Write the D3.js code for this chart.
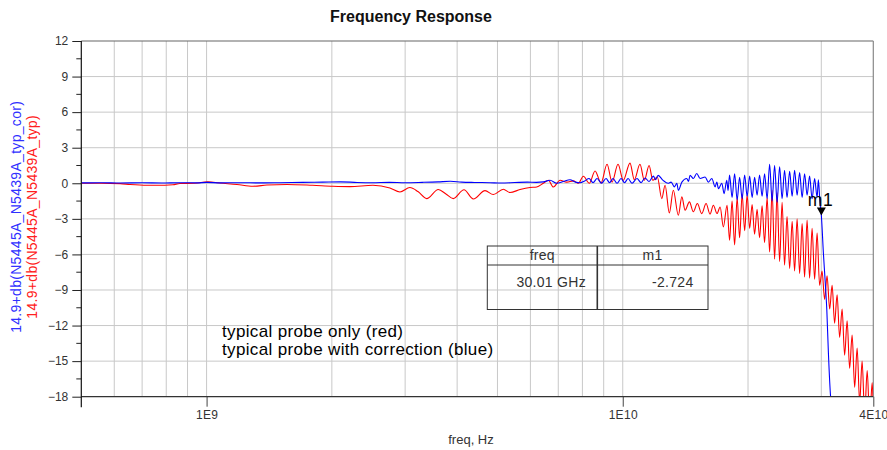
<!DOCTYPE html>
<html>
<head>
<meta charset="utf-8">
<script src="https://cdn.jsdelivr.net/npm/d3@7"></script>
<style>
  body { margin: 0; background: #fff; }
  svg { display: block; font-family: "Liberation Sans", Arial, sans-serif; }
</style>
</head>
<body>
<svg id="chart" width="887" height="450"></svg>
<script>
// ---- axis definitions (frequency in GHz, magnitude in dB) ----
const xDomain = [0.5, 40];
const xTickValues = [1, 10, 40];
const xTickLabels = ["1E9", "1E10", "4E10"];
const xGridValues = [0.6, 0.7, 0.8, 0.9, 1, 2, 3, 4, 5, 6, 7, 8, 9, 10, 20, 30];
const yDomain = [-18, 12];
const yTickValues = [-18, -15, -12, -9, -6, -3, 0, 3, 6, 9, 12];
const yMinorValues = [-16.5, -13.5, -10.5, -7.5, -4.5, -1.5, 1.5, 4.5, 7.5, 10.5];

// ---- typical probe only (red) ----
const redFreq = [
  0.5, 0.554, 0.62, 0.654, 0.719, 0.759, 0.83, 0.863, 0.937, 1.007, 1.076, 1.183,
  1.292, 1.396, 1.56, 1.798, 2.012, 2.211, 2.51, 2.758, 2.915, 3.08, 3.22, 3.38,
  3.604, 3.76, 3.915, 4.155, 4.375, 4.667, 4.887, 5.164, 5.358, 5.665, 5.985, 6.213,
  6.444, 6.626, 6.812, 7.07, 7.337, 7.61, 7.823, 8.042, 8.312, 8.579, 8.868, 9.168,
  9.426, 9.743, 10.03, 10.41, 10.66, 11.0, 11.27, 11.57, 11.81, 12.11, 12.41, 12.64,
  12.94, 13.23, 13.6, 13.87, 14.12, 14.46, 14.78, 15.11, 15.48, 15.86, 16.21, 16.51,
  16.85, 17.14, 17.45, 17.81, 18.06, 18.31, 18.57, 18.83, 19.09, 19.36, 19.63, 19.9,
  20.18, 20.46, 20.74, 21.03, 21.32, 21.62, 21.92, 22.23, 22.54, 22.85, 23.17, 23.49,
  23.82, 24.15, 24.48, 24.82, 25.18, 25.53, 25.88, 26.24, 26.61, 26.98, 27.35, 27.73,
  28.12, 28.51, 28.91, 29.31, 29.72, 30.13, 30.55, 30.97, 31.42, 31.85, 32.29, 32.74,
  33.2, 33.66, 34.13, 34.61, 35.09, 35.58, 36.08, 36.58, 37.09, 37.6, 38.13, 38.67,
  39.21, 39.75, 40.0
];
const redDb = [
  0.0, 0.0, -0.03, -0.1, -0.17, -0.17, -0.12, -0.02, 0.0, 0.12, 0.02, -0.1,
  -0.25, -0.15, -0.1, -0.17, -0.25, -0.28, -0.17, -0.4, -0.73, -0.36, -0.7, -1.29,
  -0.53, -0.9, -1.29, -0.55, -1.32, -0.62, -0.95, -0.5, -0.78, -0.53, -0.36, -0.31,
  0.0, 0.25, -0.31, 0.25, 0.1, 0.2, 0.0, 0.59, 0.0, 1.04, 0.03, 1.6,
  0.1, 1.6, 0.25, 1.7, 0.3, 1.6, 0.25, 1.5, 0.25, 0.53, -1.29, -0.17,
  -2.5, -0.59, -2.7, -1.15, -2.27, -1.57, -2.4, -1.71, -2.56, -1.71, -2.6, -1.85,
  -2.55, -2.0, -3.68, -1.85, -4.8, -1.5, -5.2, -1.2, -4.6, -0.9, -4.0, -1.0,
  -3.8, -1.8, -4.3, -2.2, -4.6, -1.9, -5.0, -1.2, -5.8, -0.6, -6.4, -0.8,
  -6.6, -1.6, -6.9, -2.8, -7.2, -3.2, -7.4, -3.0, -7.6, -3.4, -7.9, -3.1,
  -8.0, -3.8, -8.1, -4.2, -8.6, -7.4, -9.8, -7.8, -10.6, -8.6, -11.8, -9.4,
  -13.0, -10.6, -14.5, -11.6, -15.6, -12.8, -17.2, -13.9, -18.5, -15.0, -19.5, -15.8,
  -20.0, -16.8, -19.0
];

// ---- typical probe with correction (blue) ----
const blueFreq = [
  0.5, 0.56, 0.62, 0.7, 0.78, 0.86, 0.95, 1.0, 1.08, 1.2, 1.35, 1.5,
  1.7, 1.9, 2.1, 2.3, 2.5, 2.75, 3.0, 3.3, 3.6, 3.85, 4.1, 4.4,
  4.8, 5.1, 5.5, 5.9, 6.2, 6.45, 6.687, 6.937, 7.2, 7.469, 7.7, 7.895,
  8.1, 8.299, 8.485, 8.675, 8.895, 9.118, 9.296, 9.478, 9.69, 9.906, 10.1, 10.3,
  10.53, 10.82, 11.07, 11.31, 11.57, 11.85, 11.99, 12.16, 12.5, 12.85, 13.07, 13.31,
  13.49, 13.6, 13.87, 14.25, 14.39, 14.51, 14.78, 15.06, 15.34, 15.77, 16.06, 16.37,
  16.67, 16.83, 16.98, 17.3, 17.52, 17.78, 17.91, 18.06, 18.31, 18.57, 18.83, 19.09,
  19.36, 19.63, 19.9, 20.18, 20.46, 20.74, 21.03, 21.32, 21.62, 21.92, 22.23, 22.54,
  22.85, 23.17, 23.49, 23.82, 24.15, 24.48, 24.82, 25.18, 25.53, 25.88, 26.24, 26.61,
  26.98, 27.35, 27.73, 28.12, 28.51, 28.91, 29.31, 29.52, 29.77, 30.01, 30.35, 30.64,
  30.93, 31.2, 31.62, 31.75
];
const blueDb = [
  0.03, 0.05, 0.02, 0.04, 0.02, 0.05, 0.03, 0.08, 0.03, 0.05, 0.03, 0.05,
  0.08, 0.1, 0.12, 0.07, 0.05, 0.08, 0.05, 0.08, 0.12, 0.17, 0.1, 0.07,
  0.05, 0.02, 0.06, 0.1, 0.08, 0.12, 0.25, 0.0, 0.15, 0.3, 0.1, 0.05,
  0.2, 0.4, 0.05, 0.4, 0.0, 0.4, 0.05, 0.4, 0.0, 0.4, 0.05, 0.4,
  0.0, 0.4, 0.05, 0.45, 0.15, 0.6, 0.3, 0.67, 0.25, 0.0, 0.1, -0.3,
  0.0, -0.59, 0.1, 0.4, 0.15, 0.67, 0.4, 0.82, 0.4, 0.53, 0.1, 0.4,
  -0.3, 0.1, -0.45, 0.0, -0.87, 0.25, -0.6, 0.7, -1.2, 0.8, -1.4, 0.5,
  -1.3, 0.7, -1.1, 0.6, -1.2, 0.5, -1.0, 0.7, -1.1, 0.8, -1.3, 1.6,
  -1.5, 1.5, -1.6, 1.4, -1.3, 1.1, -1.2, 1.0, -1.1, 1.1, -1.0, 0.9,
  -1.2, 0.8, -1.0, 0.6, -1.3, 0.4, -1.2, 0.3, -1.6, -2.724, -5.9, -8.2,
  -10.7, -14.3, -18.2, -18.6
];

// ---- marker m1 ----
const markerName = "m1";
const markerFreq = 30.01;
const markerDb = -2.724;
const markerTable = { header: ["freq", "m1"], row: ["30.01 GHz", "-2.724"] };

const titleText = "Frequency Response";
const xLabel = "freq, Hz";
const yLabelBlue = "14.9+db(N5445A_N5439A_typ_cor)";
const yLabelRed = "14.9+db(N5445A_N5439A_typ)";
const noteLines = ["typical probe only (red)", "typical probe with correction (blue)"];

// ---- layout ----
const plot = { left: 81.3, right: 873.3, top: 41, bottom: 396.7 };
const svg = d3.select("#chart");

const x = d3.scaleLog().domain(xDomain).range([plot.left, plot.right]);
const y = d3.scaleLinear().domain(yDomain).range([plot.bottom, plot.top]);

// grid
const grid = svg.append("g").attr("stroke", "#c8c8c8").attr("stroke-width", 1);
grid.selectAll("line.v").data(xGridValues).join("line")
  .attr("x1", d => x(d)).attr("x2", d => x(d))
  .attr("y1", plot.top).attr("y2", plot.bottom);
grid.selectAll("line.h").data(yTickValues.filter(v => v > yDomain[0] && v < yDomain[1])).join("line")
  .attr("x1", plot.left).attr("x2", plot.right)
  .attr("y1", d => y(d)).attr("y2", d => y(d));

// frame (top and right)
svg.append("line").attr("x1", plot.left).attr("x2", plot.right)
  .attr("y1", plot.top).attr("y2", plot.top).attr("stroke", "#666").attr("stroke-width", 1.2);
svg.append("line").attr("x1", plot.right).attr("x2", plot.right)
  .attr("y1", plot.top).attr("y2", plot.bottom).attr("stroke", "#888").attr("stroke-width", 1.2);

// table of marker values
const tb = { left: 487.3, right: 708, top: 246, mid: 265, bottom: 309.5, split: 597.3 };
const tg = svg.append("g");
tg.append("rect").attr("x", tb.left).attr("y", tb.top)
  .attr("width", tb.right - tb.left).attr("height", tb.bottom - tb.top)
  .attr("fill", "none").attr("stroke", "#333").attr("stroke-width", 1);
tg.append("line").attr("x1", tb.left).attr("x2", tb.right).attr("y1", tb.mid).attr("y2", tb.mid)
  .attr("stroke", "#333").attr("stroke-width", 1);
tg.append("line").attr("x1", tb.split).attr("x2", tb.split).attr("y1", tb.top).attr("y2", tb.bottom)
  .attr("stroke", "#333").attr("stroke-width", 1.6);
const tText = tg.append("g").attr("font-size", 14).attr("fill", "#333").attr("letter-spacing", 0.3);
tText.append("text").attr("x", (tb.left + tb.split) / 2).attr("y", 260).attr("text-anchor", "middle").text(markerTable.header[0]);
tText.append("text").attr("x", (tb.split + tb.right) / 2).attr("y", 260).attr("text-anchor", "middle").text(markerTable.header[1]);
tText.append("text").attr("x", 586).attr("y", 286.5).attr("text-anchor", "end").text(markerTable.row[0]);
tText.append("text").attr("x", 693.5).attr("y", 286.5).attr("text-anchor", "end").text(markerTable.row[1]);

// traces
svg.append("clipPath").attr("id", "plotClip").append("rect")
  .attr("x", plot.left).attr("y", plot.top)
  .attr("width", plot.right - plot.left).attr("height", plot.bottom - plot.top);

const line = d3.line().x(d => x(d[0])).y(d => y(d[1])).curve(d3.curveMonotoneX);
const traces = svg.append("g").attr("clip-path", "url(#plotClip)").attr("fill", "none");
traces.append("path").datum(d3.zip(redFreq, redDb))
  .attr("d", line).attr("stroke", "#ff0000").attr("stroke-width", 1.1).attr("stroke-linejoin", "round");
traces.append("path").datum(d3.zip(blueFreq, blueDb))
  .attr("d", line).attr("stroke", "#0000ff").attr("stroke-width", 1.1).attr("stroke-linejoin", "round");

// marker triangle and label
const mx = x(markerFreq), my = y(markerDb);
svg.append("path")
  .attr("d", `M${mx},${my} L${mx - 4.5},${my - 8} L${mx + 4.5},${my - 8} Z`)
  .attr("fill", "#000");
svg.append("text").attr("x", mx - 13.5).attr("y", my - 10).attr("font-size", 17.5)
  .attr("letter-spacing", 0.6).attr("fill", "#000").text(markerName);

// x axis
const xAxis = d3.axisBottom(x).tickValues(xTickValues)
  .tickFormat((d, i) => xTickLabels[i]).tickSize(10).tickPadding(4);
const gx = svg.append("g").attr("transform", `translate(0,${plot.bottom})`).call(xAxis);
gx.select(".domain").remove();
gx.selectAll(".tick line").attr("stroke", "#444");
gx.selectAll(".tick text").attr("fill", "#333").attr("font-size", 12)
  .attr("font-family", "'Liberation Sans', Arial, sans-serif").attr("letter-spacing", 0.3);
svg.append("line").attr("x1", plot.left).attr("x2", plot.right)
  .attr("y1", plot.bottom).attr("y2", plot.bottom).attr("stroke", "#333").attr("stroke-width", 1.2);

// y axis
const yAxis = d3.axisLeft(y).tickValues(yTickValues).tickSize(9).tickPadding(4);
const gy = svg.append("g").attr("transform", `translate(${plot.left},0)`).call(yAxis);
gy.select(".domain").remove();
gy.selectAll(".tick line").attr("stroke", "#222");
gy.selectAll(".tick text").attr("fill", "#333").attr("font-size", 12)
  .attr("font-family", "'Liberation Sans', Arial, sans-serif");
svg.append("g").selectAll("line").data(yMinorValues).join("line")
  .attr("x1", plot.left - 5).attr("x2", plot.left)
  .attr("y1", d => y(d)).attr("y2", d => y(d)).attr("stroke", "#222");
svg.append("line").attr("x1", plot.left).attr("x2", plot.left)
  .attr("y1", plot.top).attr("y2", plot.bottom + 10.5).attr("stroke", "#111").attr("stroke-width", 1.2);

// title and axis labels
svg.append("text").attr("x", 411).attr("y", 22).attr("text-anchor", "middle")
  .attr("font-size", 16).attr("font-weight", "bold").attr("fill", "#111").text(titleText);
svg.append("text").attr("x", 471).attr("y", 444).attr("text-anchor", "middle")
  .attr("font-size", 13).attr("fill", "#333").text(xLabel);
const yMid = (plot.top + plot.bottom) / 2 - 2;
svg.append("text").attr("transform", `translate(20.5,${yMid}) rotate(-90)`)
  .attr("text-anchor", "middle").attr("font-size", 14).attr("letter-spacing", 0.3)
  .attr("fill", "#3030ff").text(yLabelBlue);
svg.append("text").attr("transform", `translate(36.5,${yMid}) rotate(-90)`)
  .attr("text-anchor", "middle").attr("font-size", 14).attr("letter-spacing", 0.3)
  .attr("fill", "#ff2020").text(yLabelRed);

// annotation
const note = svg.append("text").attr("font-size", 17).attr("letter-spacing", 0.35).attr("fill", "#000");
noteLines.forEach((t, i) => {
  note.append("tspan").attr("x", 222).attr("y", 336.5 + i * 18.5).text(t);
});
</script>
</body>
</html>
